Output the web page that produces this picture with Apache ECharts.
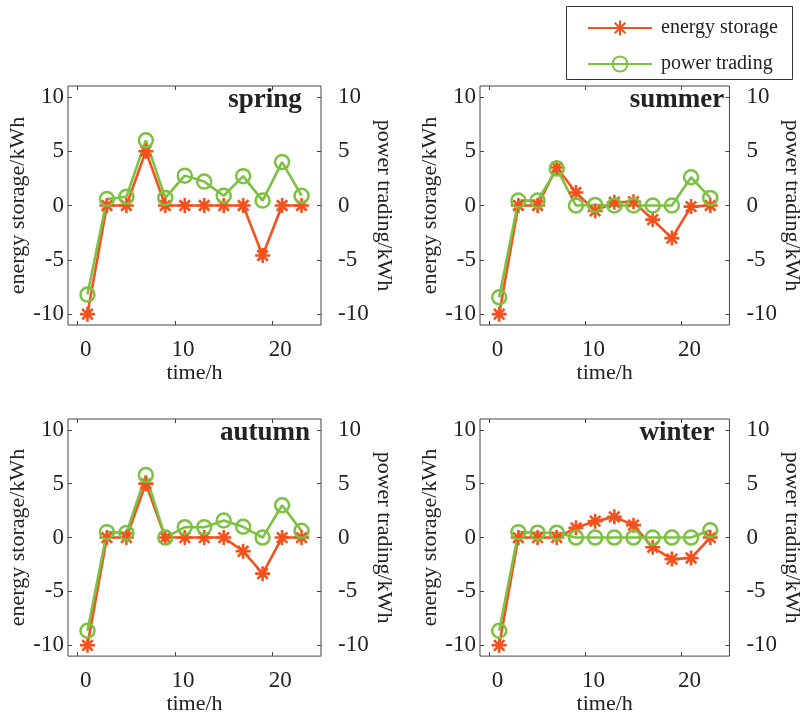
<!DOCTYPE html>
<html><head><meta charset="utf-8">
<script src="https://cdn.jsdelivr.net/npm/echarts@6/dist/echarts.min.js"></script>
<style>html,body{margin:0;padding:0;background:#fff}#c{width:804px;height:716px}</style>
</head><body><div id="c"></div><script>
// ---- data ----
const hours = [1, 3, 5, 7, 9, 11, 13, 15, 17, 19, 21, 23];
const xTicks = [0, 10, 20];
const yTicks = [-10, -5, 0, 5, 10];
const seasonNames = ['spring', 'summer', 'autumn', 'winter'];
const springStorage = [-10, 0, 0, 5.0, 0, 0, 0, 0, 0, -4.6, 0, 0];
const springTrading = [-8.2, 0.6, 0.8, 6.0, 0.7, 2.75, 2.2, 0.9, 2.7, 0.45, 4.0, 0.9];
const summerStorage = [-10, 0, 0, 3.5, 1.2, -0.5, 0.3, 0.35, -1.3, -3.0, -0.1, 0];
const summerTrading = [-8.45, 0.45, 0.45, 3.4, 0, 0.05, 0, 0, 0, 0, 2.6, 0.7];
const autumnStorage = [-10, 0, 0, 5.0, 0, 0, 0, 0, -1.27, -3.35, 0, 0];
const autumnTrading = [-8.65, 0.5, 0.43, 5.8, 0, 0.96, 0.96, 1.58, 1.0, 0, 3.0, 0.62];
const winterStorage = [-10, 0, 0, 0, 0.9, 1.52, 1.92, 1.15, -0.9, -2.0, -1.9, 0];
const winterTrading = [-8.65, 0.5, 0.45, 0.45, 0, 0, 0, 0, 0, 0, 0, 0.68];
const storageName = 'energy storage';
const tradingName = 'power trading';
const xName = 'time/h';
const yLeftName = 'energy storage/kWh';
const yRightName = 'power trading/kWh';

// ---- styles ----
const FONT = '"Liberation Serif", "Times New Roman", serif';
const RED = '#f4511e';
const GREEN = '#7cc142';
const AXC = '#444';
const TXT = '#222';
const STAR = 'path://M10 0L10 20M0 10L20 10M3 3L17 17M3 17L17 3';

const storageSets = [springStorage, summerStorage, autumnStorage, winterStorage];
const tradingSets = [springTrading, summerTrading, autumnTrading, winterTrading];
const layout = [
  {left: 68, top: 86, height: 239},
  {left: 480, top: 86, height: 239},
  {left: 68, top: 419, height: 238},
  {left: 480, top: 419, height: 238}
];
const W = 253;

const grid = [], xAxis = [], yAxis = [], series = [], title = [];
const noLine = {show: false, onZero: false};
layout.forEach((p, i) => {
  grid.push({left: p.left, top: p.top, width: W, height: p.height, show: true,
    borderColor: AXC, borderWidth: 1, backgroundColor: 'transparent', containLabel: false});
  xAxis.push({type: 'value', gridIndex: i, min: -1, max: 25, position: 'bottom',
    name: xName, nameLocation: 'middle', nameGap: 35,
    nameTextStyle: {fontFamily: FONT, fontSize: 22, color: TXT},
    axisLine: noLine, splitLine: {show: false},
    axisTick: {inside: true, length: 4, lineStyle: {color: AXC}, customValues: xTicks},
    axisLabel: {fontFamily: FONT, fontSize: 23, color: TXT, margin: 13, padding: [0, 0, 0, 16], customValues: xTicks}});
  xAxis.push({type: 'value', gridIndex: i, min: -1, max: 25, position: 'top',
    axisLine: noLine, splitLine: {show: false},
    axisTick: {inside: true, length: 4, lineStyle: {color: AXC}, customValues: xTicks},
    axisLabel: {show: false}});
  yAxis.push({type: 'value', gridIndex: i, min: -11, max: 11, position: 'left',
    name: yLeftName, nameLocation: 'middle', nameGap: 35, nameRotate: 90,
    nameTextStyle: {fontFamily: FONT, fontSize: 22, color: TXT},
    axisLine: noLine, splitLine: {show: false},
    axisTick: {inside: true, length: 4, lineStyle: {color: AXC}, customValues: yTicks},
    axisLabel: {fontFamily: FONT, fontSize: 23, color: TXT, margin: 4, padding: [6, 0, 0, 0], customValues: yTicks}});
  yAxis.push({type: 'value', gridIndex: i, min: -11, max: 11, position: 'right',
    name: yRightName, nameLocation: 'middle', nameGap: 47, nameRotate: -90,
    nameTextStyle: {fontFamily: FONT, fontSize: 22, color: TXT},
    axisLine: noLine, splitLine: {show: false},
    axisTick: {inside: true, length: 4, lineStyle: {color: AXC}, customValues: yTicks},
    axisLabel: {fontFamily: FONT, fontSize: 23, color: TXT, margin: 17, align: 'left', padding: [4, 0, 0, 0], customValues: yTicks}});
  series.push({type: 'line', name: storageName, xAxisIndex: 2 * i, yAxisIndex: 2 * i,
    data: hours.map((h, k) => [h, storageSets[i][k]]),
    symbol: STAR, symbolSize: 15, clip: false,
    lineStyle: {color: RED, width: 2.6},
    itemStyle: {color: RED, borderColor: RED, borderWidth: 2.6}});
  series.push({type: 'line', name: tradingName, xAxisIndex: 2 * i, yAxisIndex: 2 * i + 1,
    data: hours.map((h, k) => [h, tradingSets[i][k]]),
    symbol: 'circle', symbolSize: 14, clip: false,
    lineStyle: {color: GREEN, width: 2.6},
    itemStyle: {color: 'rgba(255,255,255,0)', borderColor: GREEN, borderWidth: 2.5}});
  title.push({text: seasonNames[i], left: p.left + 197, top: p.top + 1, textAlign: 'center', padding: 0,
    textStyle: {fontFamily: FONT, fontSize: 27, fontWeight: 'bold', color: TXT}});
});

const chart = echarts.init(document.getElementById('c'), null, {renderer: 'canvas'});
chart.setOption({
  animation: false,
  backgroundColor: '#fff',
  title: title,
  grid: grid, xAxis: xAxis, yAxis: yAxis, series: series,
  legend: {orient: 'vertical', left: 587, top: 18, padding: 0, itemGap: 16,
    itemWidth: 64, itemHeight: 19, data: [storageName, tradingName],
    textStyle: {fontFamily: FONT, fontSize: 20, color: TXT, padding: [0, 0, 0, 4]}},
  graphic: [{type: 'rect', shape: {x: 566.5, y: 6.5, width: 226, height: 73},
    style: {fill: 'none', stroke: '#333', lineWidth: 1}}]
});
</script></body></html>
